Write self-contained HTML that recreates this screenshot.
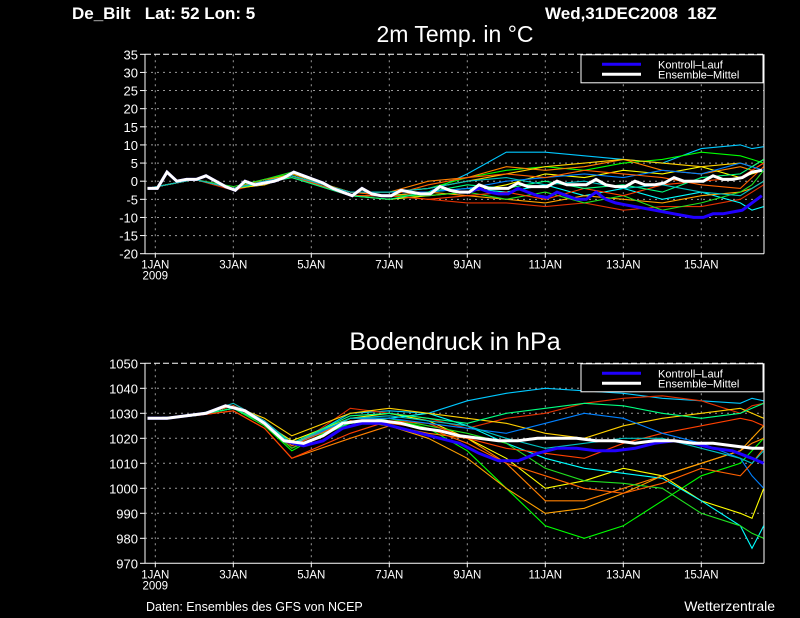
<!DOCTYPE html>
<html><head><meta charset="utf-8"><style>
html,body{margin:0;padding:0;background:#000;width:800px;height:618px;overflow:hidden}
svg{display:block}
text{font-family:"Liberation Sans",sans-serif;fill:#fff}
</style></head><body>
<svg id="chart" width="800" height="618" viewBox="0 0 800 618" xmlns="http://www.w3.org/2000/svg">
<rect width="800" height="618" fill="#000"/>
<text x="72" y="19" font-size="17" font-weight="bold">De_Bilt&#160;&#160;&#160;Lat: 52 Lon: 5</text>
<text x="545" y="19" font-size="17" font-weight="bold">Wed,31DEC2008&#160;&#160;18Z</text>
<text x="455" y="42" font-size="23" text-anchor="middle">2m Temp. in °C</text>
<text x="455" y="350" font-size="25" text-anchor="middle">Bodendruck in hPa</text>
<text x="146" y="611" font-size="12.5">Daten: Ensembles des GFS von NCEP</text>
<text x="775" y="611" font-size="14" text-anchor="end">Wetterzentrale</text>
<g id="g1"></g><g id="g2"></g>
</svg>
<script>
const dateLabels=["1JAN","3JAN","5JAN","7JAN","9JAN","11JAN","13JAN","15JAN"];
const tempTicks=[35,30,25,20,15,10,5,0,-5,-10,-15,-20];
const presTicks=[1050,1040,1030,1020,1010,1000,990,980,970];
const memberDays=[-0.2,1,2,2.8,3.5,5,6,7,8,9,10,11,12,13,14,15,15.3,15.6];
const colors=['#00c8ff','#00ff00','#ff8000','#e03000','#ffff00','#00ffff','#ffa000','#20e020','#ffd000','#ff4000','#0080ff','#00ff80','#ff6000','#00c0c0'];
const tempMean=[-2,-2,2.5,0,0.5,0.5,1.5,0,-1.5,-2.5,0,-1,-0.5,0,1,2.5,1.5,0.5,-0.5,-2,-3,-4,-2,-3.5,-4,-4,-2.5,-3,-3.5,-3.5,-1.5,-2.5,-3,-3,-1,-2,-2,-2,-0.5,-1.5,-1.5,-1.5,0,-1,-1,-1,0.5,-1,-1.5,-1.5,0,-1,-1,-0.5,1,0,0,0,1.5,0.5,0.5,1,2.5,3];
const tempCtrl=[-2,-2,2.5,0,0.5,0.5,1.5,0,-1.5,-2.5,0,-1,-0.5,0,1,2.5,1.5,0.5,-0.5,-2,-3,-4,-2,-3.5,-4,-4,-2.5,-3,-3.5,-3.5,-1.5,-2.5,-3,-3,-2,-3,-3.5,-3.5,-2,-3,-4,-4.5,-3,-4,-5,-5,-3,-5,-6,-6.5,-7,-7.5,-8,-8.5,-9,-9.5,-10,-10,-9,-9,-8.5,-8,-6,-4];
const tempMembers=[
[-2,0.5,-2,0,1.5,-4,-4,-3,2,8,8,7,6,5,9,10,9,9.5],
[-2,0.5,-2,0.5,2,-3,-3,-2,1,3,4,3,5,6,8,7,6,5],
[-2,0.5,-2,0.5,1.5,-3,-3,0,1,4,3,4,6,3,2,4,3,5],
[-2,0.5,-2.5,-0.5,1,-4,-4,-5,-6,-6,-7,-6,-8,-7,-7,-5,-3,-1],
[-2,0.5,-2,-1,1.5,-4,-5,-4,-3,-1,2,1,3,2,4,1,2,3],
[-2,0.5,-2,0,1.5,-4,-4,-3,-2,-3,-1,-4,-2,-5,-3,-6,-8,-7],
[-2,0.5,-2,0,2,-3,-4,-3,-4,-5,-6,-4,-5,-6,-4,-3,-2,0],
[-2,0.5,-1.5,0.5,2.5,-4,-4,-4,-3,-5,-3,-6,-4,-8,-6,-3,-1,3],
[-2,0.5,-2,-1,1.5,-3,-3,-2,0,2,4,5,6,5,4,5,4,6],
[-2,0.5,-2,0,1.5,-4,-4,-5,-4,-3,-5,-2,-4,-1,0,1,3,5],
[-2,0.5,-2,0,1.5,-3,-3,-3,-2,0,1,2,1,3,2,5,4,3],
[-2,0.5,-2,-0.5,1,-4,-5,-3,-1,-2,0,-2,-1,-3,1,2,4,6],
[-2,0.5,-2,0,1.5,-3,-4,-1,1,2,1,3,2,1,-1,-2,1,4],
[-2,0.5,-2,0,1.5,-3,-3,-2,0,1,-1,0,-2,-1,-3,-4,-2,0]];
const presMean=[1028,1028,1029,1030,1033,1031,1026,1019,1018,1021,1026,1027,1027,1026,1024,1023,1021,1020,1019,1019,1020,1020,1020,1019,1019,1018,1019,1019,1018,1018,1017,1016,1016];
const presCtrl=[1028,1028,1029,1030,1033,1031,1026,1019,1017,1019,1024,1026,1026,1024,1022,1020,1018,1014,1011,1011,1014,1016,1016,1015,1015,1016,1018,1019,1018,1016,1015,1012,1010];
const presMembers=[
[1028,1029,1033,1027,1017,1030,1031,1030,1035,1038,1040,1039,1038,1036,1035,1034,1036,1035],
[1028,1029,1032,1025,1015,1028,1028,1024,1015,1000,985,980,985,995,1005,1010,1015,1020],
[1028,1029,1031,1024,1012,1020,1025,1022,1020,1010,995,995,1000,1005,1010,1015,1018,1020],
[1028,1029,1034,1027,1016,1032,1030,1028,1024,1028,1030,1034,1036,1037,1035,1030,1033,1034],
[1028,1029,1033,1026,1019,1028,1030,1027,1020,1012,1000,1003,1008,1005,995,990,988,1000],
[1028,1029,1032,1026,1018,1026,1028,1030,1025,1018,1012,1008,1006,1004,995,985,976,985],
[1028,1029,1033,1027,1018,1027,1025,1020,1012,1000,990,992,998,1005,1010,1015,1020,1025],
[1028,1029,1032,1025,1016,1026,1028,1025,1022,1018,1008,1003,1002,1000,990,985,982,980],
[1028,1029,1033,1028,1021,1030,1032,1030,1028,1026,1022,1020,1025,1028,1030,1032,1030,1028],
[1028,1029,1031,1024,1012,1022,1027,1026,1020,1016,1014,1012,1018,1022,1025,1028,1027,1025],
[1028,1029,1033,1027,1017,1028,1028,1026,1024,1022,1026,1030,1028,1022,1018,1012,1005,1000],
[1028,1029,1032,1026,1018,1029,1030,1028,1026,1030,1032,1034,1033,1030,1028,1030,1032,1034],
[1028,1029,1033,1026,1017,1027,1026,1024,1018,1010,1005,1000,998,1002,1008,1005,1010,1016],
[1028,1029,1034,1027,1018,1028,1029,1027,1025,1020,1016,1018,1020,1020,1016,1012,1010,1015]];

const NS="http://www.w3.org/2000/svg";
const X0=145,X1=764,DAY0=155.3,DPX=39;
const xDay=d=>DAY0+DPX*d;
function mk(tag,attrs,parent){const e=document.createElementNS(NS,tag);for(const k in attrs)e.setAttribute(k,attrs[k]);parent.appendChild(e);return e;}
function seriesTime(k,n){return k===n-1&&n===33?15.6:-0.2+k*(n===64?0.25:0.5);}
function drawPanel(g,top,bot,ticks,mean,ctrl,members,pfx){
  const vmax=ticks[0],vmin=ticks[ticks.length-1];
  const y=v=>top+(vmax-v)/(vmax-vmin)*(bot-top);
  ticks.forEach(t=>{
    const yy=y(t);
    if(t!==vmin&&t!==vmax){const l=mk('line',{x1:X0,x2:X1,y1:yy,y2:yy,stroke:'#999','stroke-dasharray':'2,4','stroke-width':1},g);
    
    }
    mk('line',{x1:X0-5,x2:X0,y1:yy,y2:yy,stroke:'#fff'},g);
    const tx=mk('text',{x:X0-7,y:yy+5,'font-size':13,'text-anchor':'end'},g);tx.textContent=t;
    
    
  });
  dateLabels.forEach((lab,i)=>{
    const xx=xDay(i*2);
    mk('line',{x1:xx,x2:xx,y1:top,y2:bot,stroke:'#999','stroke-dasharray':'2,4'},g);
    mk('line',{x1:xx,x2:xx,y1:bot,y2:bot+4,stroke:'#fff'},g);
    const tx=mk('text',{x:xx,y:bot+15,'font-size':11.5,'text-anchor':'middle'},g);tx.textContent=lab;
    
    
  });
  const yr=mk('text',{x:xDay(0),y:bot+26,'font-size':11.5,'text-anchor':'middle'},g);yr.textContent='2009';
  mk('line',{x1:X0,x2:X1,y1:top,y2:top,stroke:'#fff','stroke-dasharray':'6,3'},g);
  mk('line',{x1:X0,x2:X1,y1:bot,y2:bot,stroke:'#fff'},g);
  mk('line',{x1:X0,x2:X0,y1:top,y2:bot,stroke:'#fff'},g);
  mk('line',{x1:X1,x2:X1,y1:top,y2:bot,stroke:'#fff'},g);
  members.forEach((m,i)=>{
    const pts=m.map((v,k)=>xDay(memberDays[k]).toFixed(1)+','+y(v).toFixed(1)).join(' ');
    const p=mk('polyline',{points:pts,fill:'none',stroke:colors[i%colors.length],'stroke-width':1.1},g);
    
    
  });
  const line=(arr,col,w,name)=>{
    const pts=arr.map((v,k)=>xDay(seriesTime(k,arr.length)).toFixed(1)+','+y(v).toFixed(1)).join(' ');
    const p=mk('polyline',{points:pts,fill:'none',stroke:col,'stroke-width':w},g);
    
    
  };
  line(ctrl,'#2000ff',3,pfx+'-control-run');
  line(mean,'#fff',3,pfx+'-ensemble-mean');
  const lg=mk('g',{},g);
  
  
  mk('rect',{x:581,y:top+0.5,width:182,height:28,fill:'#000',stroke:'#fff'},lg);
  mk('line',{x1:602,x2:641,y1:top+10,y2:top+10,stroke:'#2000ff','stroke-width':3},lg);
  mk('line',{x1:602,x2:641,y1:top+20,y2:top+20,stroke:'#fff','stroke-width':3},lg);
  const a=mk('text',{x:658,y:top+14,'font-size':11},lg);a.textContent='Kontroll\u2013Lauf';
  const b=mk('text',{x:658,y:top+24,'font-size':11},lg);b.textContent='Ensemble\u2013Mittel';
}
drawPanel(document.getElementById('g1'),54.3,253.7,tempTicks,tempMean,tempCtrl,tempMembers,'temp');
drawPanel(document.getElementById('g2'),363.3,563.3,presTicks,presMean,presCtrl,presMembers,'pressure');
</script>
</body></html>
